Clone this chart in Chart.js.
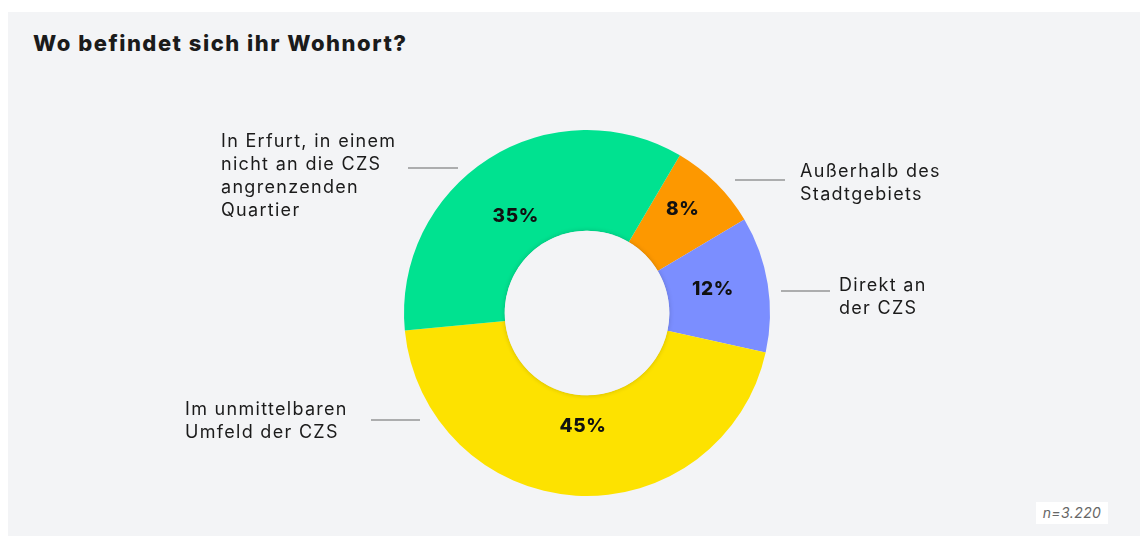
<!DOCTYPE html>
<html lang="de">
<head>
<meta charset="utf-8">
<title>Wo befindet sich ihr Wohnort?</title>
<script src="https://cdn.jsdelivr.net/npm/chart.js@4/dist/chart.umd.min.js"></script>
<style>
  html, body { margin: 0; padding: 0; background: #fff; }
  body { width: 1144px; height: 536px; position: relative; overflow: hidden; font-family: Inter, "Noto Sans", sans-serif; }
  .card { position: absolute; left: 8px; top: 12px; width: 1132px; height: 530px; background: #f3f4f6; }
  h1 { position: absolute; left: 33px; top: 30px; margin: 0; font-size: 22px; font-weight: 800; color: #1b1b1b; letter-spacing: 1.5px; }
  .n { position: absolute; left: 1036px; top: 502px; width: 72px; height: 22px; background: #fff; color: #666; font-size: 14px; font-style: italic; line-height: 22px; text-align: center; letter-spacing: 0.4px; }
  #wrap { position: absolute; left: 0; top: 0; width: 1144px; height: 536px; }
</style>
</head>
<body>
<div class="card"></div>
<h1>Wo befindet sich ihr Wohnort?</h1>
<div id="wrap"><canvas id="donut"></canvas></div>
<div class="n">n=3.220</div>
<script>
// data (clockwise from the orange slice)
const categories = [
  ['Außerhalb des', 'Stadtgebiets'],
  ['Direkt an', 'der CZS'],
  ['Im unmittelbaren', 'Umfeld der CZS'],
  ['In Erfurt, in einem', 'nicht an die CZS', 'angrenzenden', 'Quartier']
];
const shares = [8, 12, 45, 35];
const colors = ['#fd9800', '#7b8eff', '#fde200', '#00e290'];

// where the outside labels sit, relative to the doughnut centre
const labelPlaces = [
  { lineX: [148, 198], lineY: -133, textX: 213, textY: -150 },
  { lineX: [194, 243], lineY: -22, textX: 252, textY: -36 },
  { lineX: [-167, -216], lineY: 107, textX: -402, textY: 88 },
  { lineX: [-129, -179], lineY: -145, textX: -366, textY: -180 }
];
// small nudges for the percentage labels
const pctNudge = [[2, -10], [-5, -3], [4, -19], [0, 15]];

const outsideLabels = {
  id: 'outsideLabels',
  afterDatasetsDraw(chart) {
    const ctx = chart.ctx;
    const meta = chart.getDatasetMeta(0);
    const cx = meta.data[0].x, cy = meta.data[0].y;
    const inner = meta.data[0].innerRadius;
    ctx.save();
    // soft shadow round the hole
    ctx.beginPath();
    ctx.arc(cx, cy, inner, 0, Math.PI * 2);
    ctx.fillStyle = '#f3f4f6';
    ctx.shadowColor = 'rgba(0,0,0,0.18)';
    ctx.shadowBlur = 5;
    ctx.fill();
    ctx.shadowColor = 'transparent';

    meta.data.forEach((arc, i) => {
      // percentage inside slice
      const p = arc.tooltipPosition();
      ctx.fillStyle = '#111';
      ctx.font = '800 19px Inter, sans-serif';
      ctx.letterSpacing = '0.6px';
      ctx.textAlign = 'center';
      ctx.textBaseline = 'middle';
      ctx.fillText(shares[i] + '%', p.x + pctNudge[i][0], p.y + pctNudge[i][1]);

      // leader line + category text
      const pl = labelPlaces[i];
      ctx.strokeStyle = '#666';
      ctx.lineWidth = 1.2;
      ctx.beginPath();
      ctx.moveTo(cx + pl.lineX[0], cy + pl.lineY);
      ctx.lineTo(cx + pl.lineX[1], cy + pl.lineY);
      ctx.stroke();
      ctx.font = '400 18px Inter, sans-serif';
      ctx.letterSpacing = '1.3px';
      ctx.fillStyle = '#1b1b1b';
      ctx.textAlign = 'left';
      ctx.textBaseline = 'top';
      categories[i].forEach((line, k) => {
        ctx.fillText(line, cx + pl.textX, cy + pl.textY + k * 23);
      });
    });
    ctx.restore();
  }
};

new Chart(document.getElementById('donut'), {
  type: 'doughnut',
  data: {
    labels: categories.map(c => c.join(' ')),
    datasets: [{
      data: shares,
      backgroundColor: colors,
      borderWidth: 0,
      hoverOffset: 0
    }]
  },
  options: {
    responsive: true,
    maintainAspectRatio: false,
    animation: false,
    rotation: 30.5,
    cutout: '45%',
    layout: { padding: { left: 404, right: 374, top: 130, bottom: 40 } },
    plugins: {
      legend: { display: false },
      tooltip: { enabled: false },
      title: { display: false }
    }
  },
  plugins: [outsideLabels]
});
</script>
</body>
</html>
